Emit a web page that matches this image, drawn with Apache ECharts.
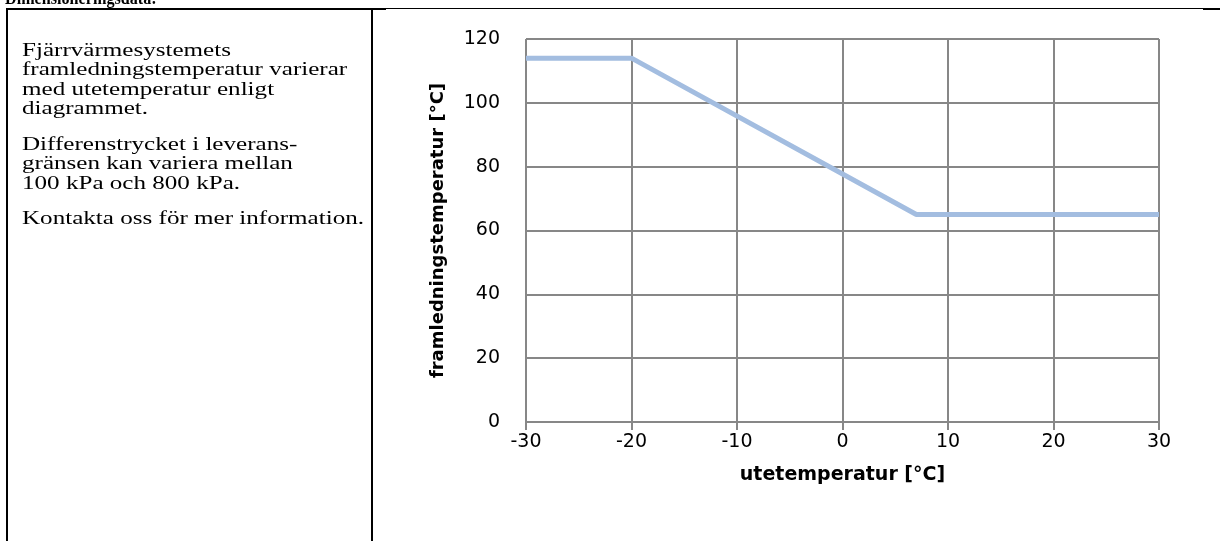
<!DOCTYPE html>
<html>
<head>
<meta charset="utf-8">
<script src="https://cdn.jsdelivr.net/npm/echarts@6/dist/echarts.min.js"></script>
<style>
  html, body { margin: 0; padding: 0; background: #fff; }
  body { width: 1220px; height: 541px; position: relative; overflow: hidden; }
  #chart { position: absolute; left: 0; top: 0; width: 1220px; height: 541px; }
  .ln { position: absolute; background: #000; }
  #heading { position: absolute; left: 5px; top: -13px; font: bold 19px "Liberation Serif", serif; color: #000; white-space: nowrap; transform: scaleX(0.85); transform-origin: 0 0; }
  #note { position: absolute; left: 22px; top: 39.5px; font: 19px/19.5px "Liberation Serif", serif; color: #000; white-space: nowrap; transform: scaleX(1.32); transform-origin: 0 0; }
  #note p { margin: 0 0 16px 0; }
</style>
</head>
<body>
<div id="chart"></div>
<div id="heading">Dimensioneringsdata:</div>
<div class="ln" style="left:6px; top:8px; width:380px; height:2px;"></div>
<div class="ln" style="left:386px; top:8px; width:817px; height:1px;"></div>
<div class="ln" style="left:1203px; top:8px; width:17px; height:2px;"></div>
<div class="ln" style="left:6px; top:8px; width:2px; height:533px;"></div>
<div class="ln" style="left:371px; top:9px; width:2px; height:532px;"></div>
<div id="note">
  <p>Fjärrvärmesystemets<br>framledningstemperatur varierar<br>med utetemperatur enligt<br>diagrammet.</p>
  <p>Differenstrycket i leverans-<br>gränsen kan variera mellan<br>100 kPa och 800 kPa.</p>
  <p>Kontakta oss för mer information.</p>
</div>
<script>
// Data
const outdoorTemp = [-30, -20, 7, 30];        // utetemperatur [°C]
const supplyTemp  = [114, 114, 65, 65];       // framledningstemperatur [°C]
const xTicks = { min: -30, max: 30, interval: 10 };
const yTicks = { min: 0, max: 120, interval: 20 };
const xTitle = 'utetemperatur [°C]';
const yTitle = 'framledningstemperatur [°C]';

const chart = echarts.init(document.getElementById('chart'), null, { renderer: 'canvas' });
const gridColor = '#878787';
const labelFont = { color: '#000', fontFamily: 'DejaVu Sans', fontSize: 19 };
chart.setOption({
  animation: false,
  backgroundColor: 'transparent',
  grid: { left: 526, right: 61, top: 39, bottom: 119, containLabel: false },
  xAxis: {
    type: 'value',
    min: xTicks.min, max: xTicks.max, interval: xTicks.interval,
    name: xTitle, nameLocation: 'middle', nameGap: 44,
    nameTextStyle: { color: '#000', fontFamily: 'DejaVu Sans', fontSize: 19, fontWeight: 'bold' },
    axisLine: { show: true, onZero: false, lineStyle: { color: gridColor, width: 2 } },
    axisTick: { show: true, length: 8, lineStyle: { color: gridColor, width: 2 } },
    axisLabel: Object.assign({ margin: 11 }, labelFont),
    splitLine: { show: true, lineStyle: { color: gridColor, width: 2 } }
  },
  yAxis: {
    type: 'value',
    min: yTicks.min, max: yTicks.max, interval: yTicks.interval,
    name: yTitle, nameLocation: 'middle', nameGap: 79,
    nameTextStyle: { color: '#000', fontFamily: 'DejaVu Sans', fontSize: 18, fontWeight: 'bold' },
    axisLine: { show: true, lineStyle: { color: gridColor, width: 2 } },
    axisTick: { show: true, length: 8, lineStyle: { color: gridColor, width: 2 } },
    axisLabel: Object.assign({ margin: 26 }, labelFont),
    splitLine: { show: true, lineStyle: { color: gridColor, width: 2 } }
  },
  series: [{
    type: 'line',
    data: outdoorTemp.map((x, i) => [x, supplyTemp[i]]),
    showSymbol: false,
    symbol: 'none',
    lineStyle: { color: '#a3bde0', width: 5 },
    z: 3
  }]
});
</script>
</body>
</html>
